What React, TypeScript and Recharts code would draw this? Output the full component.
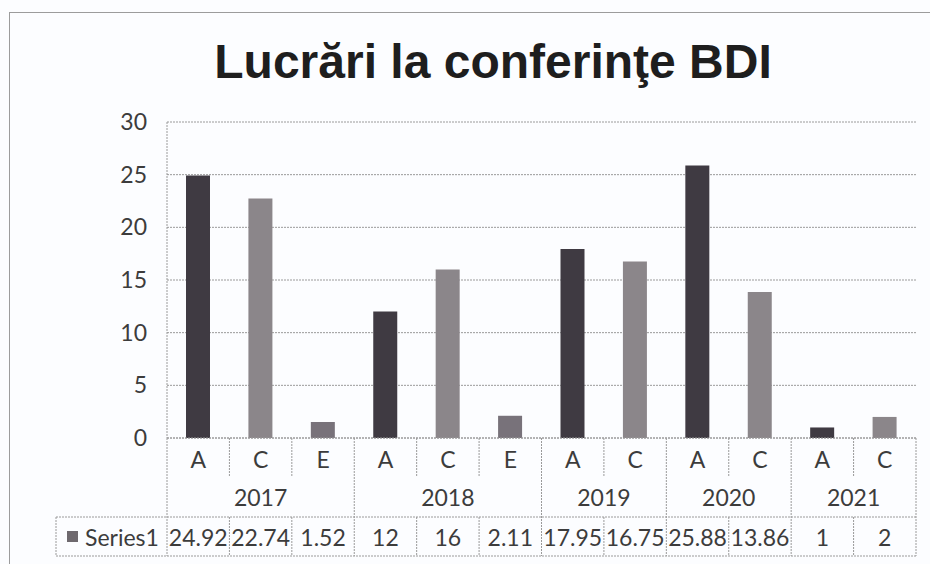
import React from "react";
import { BarChart, Bar, XAxis, YAxis, CartesianGrid, Cell } from "recharts";

const years = ["2017", "2017", "2017", "2018", "2018", "2018", "2019", "2019", "2020", "2020", "2021", "2021"];
const subs = ["A", "C", "E", "A", "C", "E", "A", "C", "A", "C", "A", "C"];
const values = [24.92, 22.74, 1.52, 12, 16, 2.11, 17.95, 16.75, 25.88, 13.86, 1, 2];
const valueLabels = ["24.92", "22.74", "1.52", "12", "16", "2.11", "17.95", "16.75", "25.88", "13.86", "1", "2"];
const yTicks = [0, 5, 10, 15, 20, 25, 30];

const subColors: Record<string, string> = { A: "#3f3a42", C: "#8b868a", E: "#78727a" };

const data = subs.map((s, i) => ({ key: `${years[i]}-${s}-${i}`, sub: s, year: years[i], value: values[i] }));

const W = 930;
const H = 564;
const PLOT_LEFT = 167;
const PLOT_RIGHT = 916;
const PLOT_TOP = 122;
const PLOT_BOTTOM = 438;
const BAND = (PLOT_RIGHT - PLOT_LEFT) / subs.length;
const SUB_SEP_END = 477;
const TABLE_TOP = 517;
const TABLE_BOTTOM = 556;
const TABLE_LEFT = 56;

const FONT = "Lato, 'Open Sans', sans-serif";
const TEXT = "#3c3c3c";
const LINE = "#9a9a9a";
const DASH = "2 1";

function AxisTick(props: any) {
  const { x, payload } = props;
  const i: number = payload.index;
  const n = subs.length;
  const groupStart = i === 0 || years[i] !== years[i - 1];
  const groupEnd = i === n - 1 || years[i] !== years[i + 1];
  let count = 1;
  while (i + count < n && years[i + count] === years[i]) count++;
  const left = x - BAND / 2;
  const right = x + BAND / 2;

  return (
    <g>
      {i === 0 && (
        <g>
          <line x1={left} x2={left} y1={PLOT_BOTTOM} y2={TABLE_BOTTOM} stroke={LINE} strokeDasharray={DASH} />
          <line x1={TABLE_LEFT} x2={PLOT_RIGHT} y1={TABLE_TOP} y2={TABLE_TOP} stroke={LINE} strokeDasharray={DASH} />
          <line x1={TABLE_LEFT} x2={PLOT_RIGHT} y1={TABLE_BOTTOM} y2={TABLE_BOTTOM} stroke={LINE} strokeDasharray={DASH} />
          <line x1={TABLE_LEFT} x2={TABLE_LEFT} y1={TABLE_TOP} y2={TABLE_BOTTOM} stroke={LINE} strokeDasharray={DASH} />
          <rect x={67} y={531} width={11} height={11} fill="#6e696e" />
          <text x={85} y={537} dominantBaseline="central" fontSize={23} fontFamily={FONT} fill={TEXT}>
            Series1
          </text>
        </g>
      )}
      {groupEnd ? (
        <line x1={right} x2={right} y1={PLOT_BOTTOM} y2={TABLE_BOTTOM} stroke={LINE} strokeDasharray={DASH} />
      ) : (
        <g>
          <line x1={right} x2={right} y1={PLOT_BOTTOM} y2={SUB_SEP_END} stroke={LINE} strokeDasharray={DASH} />
          <line x1={right} x2={right} y1={TABLE_TOP} y2={TABLE_BOTTOM} stroke={LINE} strokeDasharray={DASH} />
        </g>
      )}
      <text x={x} y={459} textAnchor="middle" dominantBaseline="central" fontSize={23} fontFamily={FONT} fill={TEXT}>
        {subs[i]}
      </text>
      {groupStart && (
        <text
          x={left + (count * BAND) / 2}
          y={497}
          textAnchor="middle"
          dominantBaseline="central"
          fontSize={23}
          fontFamily={FONT}
          fill={TEXT}
        >
          {years[i]}
        </text>
      )}
      <text x={x} y={537} textAnchor="middle" dominantBaseline="central" fontSize={23} fontFamily={FONT} fill={TEXT}>
        {valueLabels[i]}
      </text>
    </g>
  );
}

export default function App() {
  return (
    <div style={{ position: "absolute", left: 0, top: 0, width: W, height: H, background: "#fcfdff", overflow: "hidden" }}>
      <div
        style={{
          position: "absolute",
          left: 9,
          top: 12,
          width: W,
          height: H,
          borderLeft: "1.5px solid #9c9c9c",
          borderTop: "1.5px solid #9c9c9c",
        }}
      />
      <div
        style={{
          position: "absolute",
          left: 0,
          top: 38,
          width: 986,
          textAlign: "center",
          fontFamily: "'Liberation Sans', Arial, sans-serif",
          fontWeight: "bold",
          fontSize: 48,
          lineHeight: "48px",
          color: "#1e1e1e",
          whiteSpace: "nowrap",
        }}
      >
        Lucrări la conferinţe BDI
      </div>
      <div style={{ position: "absolute", left: 0, top: 0 }}>
        <BarChart
          width={W}
          height={H}
          data={data}
          margin={{ top: PLOT_TOP, right: W - PLOT_RIGHT, left: PLOT_LEFT - 60, bottom: 26 }}
          barSize={24}
        >
          <CartesianGrid vertical={false} stroke={LINE} strokeDasharray={DASH} />
          <XAxis
            dataKey="key"
            interval={0}
            tickLine={false}
            height={H - PLOT_BOTTOM - 26}
            axisLine={{ stroke: LINE, strokeDasharray: DASH }}
            tick={<AxisTick />}
          />
          <YAxis
            width={60}
            domain={[0, 30]}
            ticks={yTicks}
            tickLine={false}
            tickMargin={14}
            axisLine={{ stroke: LINE, strokeDasharray: DASH }}
            tick={{ fontSize: 23, fontFamily: FONT, fill: TEXT }}
          />
          <Bar dataKey="value" isAnimationActive={false}>
            {data.map((d) => (
              <Cell key={d.key} fill={subColors[d.sub]} />
            ))}
          </Bar>
        </BarChart>
      </div>
    </div>
  );
}
